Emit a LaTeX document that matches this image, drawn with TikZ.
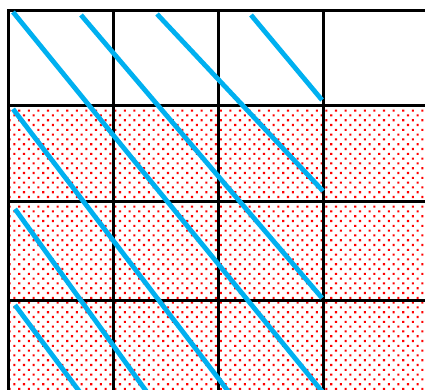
\documentclass[tikz,border=0pt]{standalone}
\usetikzlibrary{patterns}
\pgfdeclarepatternformonly{reddots}{\pgfqpoint{-1.5pt}{-1.5pt}}{\pgfqpoint{6.3pt}{6.3pt}}{\pgfqpoint{9.6pt}{9.6pt}}{%
  \pgfpathrectangle{\pgfqpoint{-1.05pt}{-1.05pt}}{\pgfqpoint{2.1pt}{2.1pt}}%
  \pgfpathrectangle{\pgfqpoint{3.75pt}{3.75pt}}{\pgfqpoint{2.1pt}{2.1pt}}%
  \pgfusepath{fill}%
}
\definecolor{skyline}{RGB}{0,176,240}
\tikzset{
  gridline/.style={black, line width=3pt},
  blueline/.style={skyline, line width=4.8pt},
}
\begin{document}
\begin{tikzpicture}[x=1pt,y=-1pt]
\useasboundingbox (0,0) rectangle (425,389);
\clip (0,0) rectangle (425,389);
% dotted region
\fill[pattern=reddots, pattern color=red] (8.3,105) rectangle (430,395);
% grid
\coordinate (tl) at (8.3,10);
\draw[gridline] (8.3,395) -- (tl) -- (430,10);
\foreach \x in {113,218,323.5} \draw[gridline] (\x,10) -- (\x,395);
\foreach \y in {105,201,300} \draw[gridline] (8.3,\y) -- (430,\y);
% blue lines
\coordinate (a1) at (13,12);   \coordinate (b1) at (322.5,392);
\coordinate (a2) at (81,15);   \coordinate (b2) at (322,298);
\coordinate (a3) at (157,14);  \coordinate (b3) at (323,191);
\coordinate (a4) at (13,109);  \coordinate (b4) at (231,395);
\coordinate (a5) at (251,15);  \coordinate (b5) at (322,100);
\coordinate (a6) at (15,209);  \coordinate (b6) at (149,395);
\coordinate (a7) at (15,305);  \coordinate (b7) at (82,395);
\foreach \i in {1,...,7} \draw[blueline] (a\i) -- (b\i);
\end{tikzpicture}
\end{document}
